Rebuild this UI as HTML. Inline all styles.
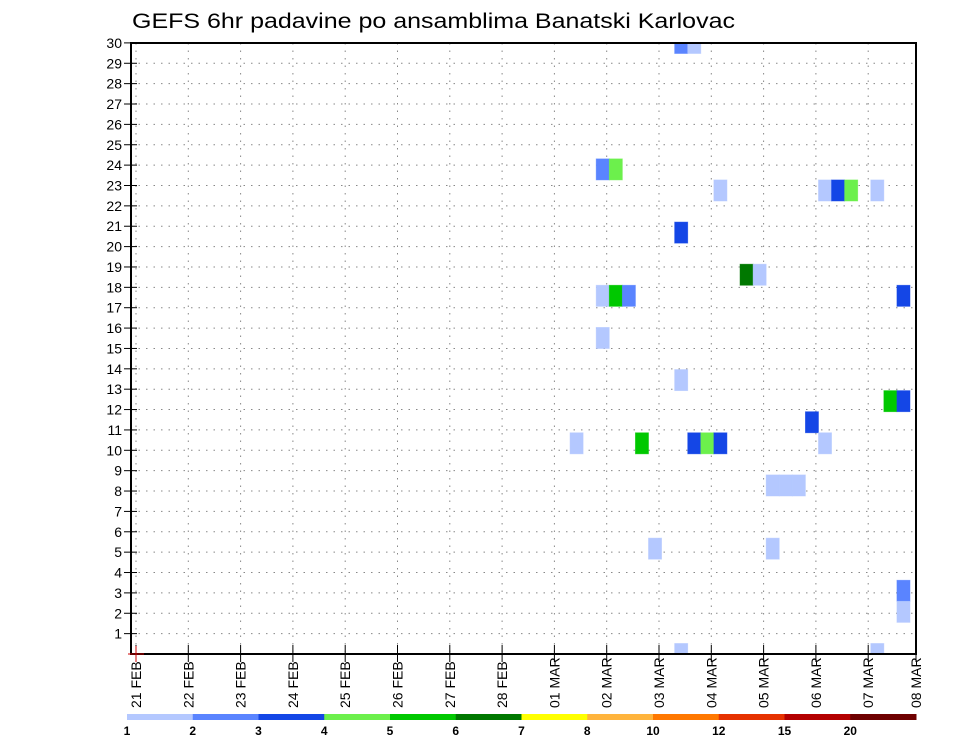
<!DOCTYPE html>
<html><head><meta charset="utf-8"><style>
html,body{margin:0;padding:0;background:#fff;}
svg{display:block;font-family:"Liberation Sans",sans-serif;}
</style></head><body>
<svg id="chart" width="960" height="742" viewBox="0 0 960 742">
<defs><clipPath id="plotclip"><rect x="131" y="43" width="785" height="611"/></clipPath></defs>
<text x="132" y="28" font-size="21" textLength="603" lengthAdjust="spacingAndGlyphs" fill="#000">GEFS 6hr padavine po ansamblima Banatski Karlovac</text>
<g id="grid"></g>
<g id="cells" clip-path="url(#plotclip)"></g>
<rect x="131" y="43" width="785" height="611" fill="none" stroke="#000" stroke-width="2"/>
<g id="axes"></g>
<g id="colorbar"></g>
</svg>
<script>
// data
const dayLabels = ["21 FEB","22 FEB","23 FEB","24 FEB","25 FEB","26 FEB","27 FEB","28 FEB","01 MAR","02 MAR","03 MAR","04 MAR","05 MAR","06 MAR","07 MAR"];
const lastLabel = "08 MAR";
const memberTicks = [1,2,3,4,5,6,7,8,9,10,11,12,13,14,15,16,17,18,19,20,21,22,23,24,25,26,27,28,29,30];
// each cell: member index, 6hr slot index since 21 FEB 00z, precip (mm)
const cellMembers = [29,29,23,23,22,22,22,22,22,20,18,18,17,17,17,17,15,13,12,12,11,10,10,10,10,10,10,8,8,8,5,5,3,2,0,0];
const cellSlots   = [42,43,36,37,45,53,54,55,57,42,47,48,36,37,38,59,36,42,58,59,52,34,39,43,44,45,53,49,50,51,40,49,59,59,42,57];
const cellValues  = [2.5,1.5,2.5,4.5,1.5,1.5,3.5,4.5,1.5,3.5,6.5,1.5,1.5,5.5,2.5,3.5,1.5,1.5,5.5,3.5,3.5,1.5,5.5,3.5,4.5,3.5,1.5,1.5,1.5,1.5,1.5,1.5,2.5,1.5,1.5,1.5];
const levels = [1,2,3,4,5,6,7,8,10,12,15,20];
const levelColors = ["#b4c8ff","#5a84ff","#1446e6","#6cf04c","#00c800","#007800","#ffff00","#ffb43c","#ff7800","#e63200","#b40000","#6e0000"];

const NS="http://www.w3.org/2000/svg";
const X0=136, DAY=52.3, SLOT=DAY/4, YB=654, ROW=20.37, MEM=21.07;
const xDay=d=>X0+d*DAY;
const xSlot=s=>X0+s*SLOT-10.5;
const yRow=k=>YB-k*ROW;
const yMem=m=>YB-m*MEM-MEM/2;
function mk(tag,attrs,parent){const e=document.createElementNS(NS,tag);for(const k in attrs)e.setAttribute(k,attrs[k]);parent.appendChild(e);return e;}
function bin(v){let i=0;for(let j=0;j<levels.length;j++){if(v>=levels[j])i=j;}return i;}

const grid=document.getElementById('grid');
memberTicks.forEach(k=>{
  const l=mk('line',{x1:131,x2:916,y1:yRow(k),y2:yRow(k),stroke:'#888','stroke-width':1,'stroke-dasharray':'1.5,6'},grid);
  
  
});
dayLabels.forEach((d,i)=>{
  const l=mk('line',{x1:xDay(i),x2:xDay(i),y1:43,y2:654,stroke:'#888','stroke-width':1,'stroke-dasharray':'1.5,6'},grid);
  
  
});

const cells=document.getElementById('cells');
cellMembers.forEach((m,i)=>{
  const c=levelColors[bin(cellValues[i])];
  const r=mk('rect',{x:xSlot(cellSlots[i]),y:yMem(m),width:SLOT,height:MEM,fill:c,stroke:c,'stroke-opacity':0.6,'stroke-width':0.8},cells);
  
  
});

const axes=document.getElementById('axes');
memberTicks.forEach(k=>{
  mk('line',{x1:124,x2:137,y1:yRow(k),y2:yRow(k),stroke:'#000','stroke-width':1},axes);
  const t=mk('text',{x:122,y:yRow(k)+5,'font-size':14,'text-anchor':'end',fill:'#000'},axes);
  t.textContent=k;
  
  
});
function dateLabel(x,txt){
  mk('line',{x1:x,x2:x,y1:645,y2:662,stroke:'#000','stroke-width':1},axes);
  const t=mk('text',{x:0,y:0,'font-size':14,'text-anchor':'start',fill:'#000',transform:`translate(${x+5},708) rotate(-90)`},axes);
  t.textContent=txt;
  
  
}
dayLabels.forEach((d,i)=>dateLabel(xDay(i),d));
dateLabel(916,lastLabel);
mk('line',{x1:128,x2:144,y1:654,y2:654,stroke:'#c00','stroke-width':1},axes);
mk('line',{x1:136,x2:136,y1:646,y2:662,stroke:'#c00','stroke-width':1},axes);

const cb=document.getElementById('colorbar');
const CB0=127, CBW=(916-127)/levels.length;
levelColors.forEach((c,i)=>{
  const r=mk('rect',{x:CB0+i*CBW,y:714,width:CBW+0.5,height:6,fill:c},cb);
  
  
  const t=mk('text',{x:CB0+i*CBW,y:735,'font-size':12,'font-weight':'bold','text-anchor':'middle',fill:'#000'},cb);
  t.textContent=levels[i];
  
  
});
</script>
</body></html>
